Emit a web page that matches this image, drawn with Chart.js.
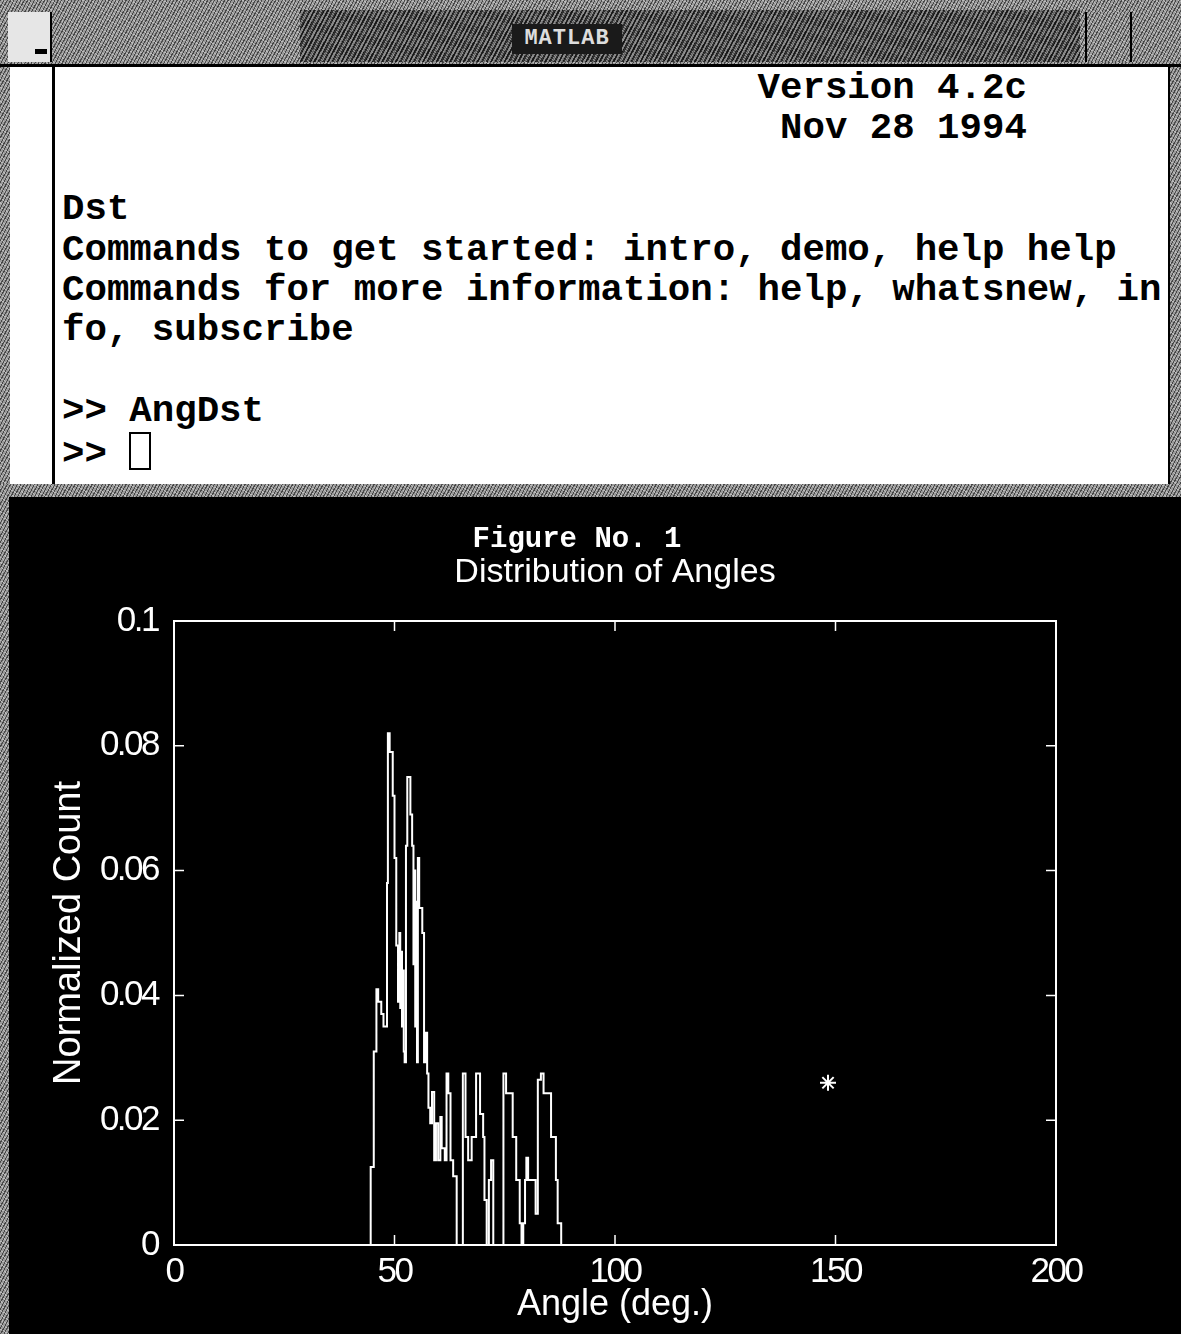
<!DOCTYPE html>
<html>
<head>
<meta charset="utf-8">
<script src="https://cdn.jsdelivr.net/npm/chart.js@4.4.0/dist/chart.umd.min.js"></script>
<style>
  html, body { margin:0; padding:0; }
  body { width:1181px; height:1334px; position:relative; overflow:hidden; background:#fff; }
  .dither { background-color:#9a9a9a;
    background-image: repeating-linear-gradient(118deg, rgba(0,0,0,0.55) 0 1px, transparent 1px 3px),
                      repeating-linear-gradient(30deg, rgba(255,255,255,0.35) 0 1px, transparent 1px 4px); }
  #titlebar { position:absolute; left:0; top:0; width:1181px; height:64px; border-bottom:3px solid #000; }
  #titlebar .dark { position:absolute; left:300px; top:10px; width:780px; height:52px;
    background-image: repeating-linear-gradient(118deg, rgba(0,0,0,0.7) 0 2px, rgba(120,120,120,0.6) 2px 4px); }
  #titletext { position:absolute; left:512px; top:24px; width:110px; height:30px; background:#1a1a1a; color:#ddd;
    font:bold 22px "Liberation Mono", monospace; text-align:center; line-height:30px; letter-spacing:1px; }
  #ctrlbox { position:absolute; left:8px; top:12px; width:42px; height:50px; background:#e6e6e6; border-right:2px solid #000; }
  #ctrlbox::after { content:""; position:absolute; left:27px; top:37px; width:12px; height:5px; background:#000; }
  .btn { position:absolute; top:12px; height:50px; border-left:2px solid #000; }
  #leftstrip { position:absolute; left:0; top:67px; width:52px; height:418px; background:#fff; border-right:3px solid #000; }
  #leftstrip .edge { position:absolute; left:0; top:0; width:10px; height:100%; }
  #rightstrip { position:absolute; left:1168px; top:67px; width:13px; height:418px; border-left:2px solid #000; }
  #midband { position:absolute; left:0; top:484px; width:1181px; height:14px; }
  #cmd { position:absolute; left:62px; top:68px; margin:0; font:bold 37.4px "Liberation Mono", monospace;
    line-height:40.4px; color:#000; white-space:pre; }
  #cursor { display:inline-block; width:18px; height:34px; border:2px solid #000; vertical-align:-6px; }
  #figure { position:absolute; left:0; top:497px; width:1181px; height:837px; background:#000; }
  #figure .edge { position:absolute; left:0; top:0; width:9px; height:100%; }
  #figtitle { position:absolute; left:0; top:523px; width:1154px; text-align:center; color:#fff;
    font:bold 29px "Liberation Mono", monospace; z-index:3; }
  #chart { position:absolute; left:0; top:497px; z-index:2; }
</style>
</head>
<body>
<div id="titlebar" class="dither">
  <div class="dark"></div>
  <div id="ctrlbox"></div>
  <div id="titletext">MATLAB</div>
  <div class="btn dither" style="left:1085px;width:43px;"></div>
  <div class="btn dither" style="left:1130px;width:40px;"></div>
</div>
<div id="leftstrip"><div class="edge dither"></div></div>
<div id="rightstrip" class="dither"></div>
<pre id="cmd">                               Version 4.2c
                                Nov 28 1994

Dst
Commands to get started: intro, demo, help help
Commands for more information: help, whatsnew, in
fo, subscribe

&gt;&gt; AngDst
&gt;&gt; <span id="cursor"></span></pre>
<div id="midband" class="dither"></div>
<div id="figure"><div class="edge dither"></div></div>
<div id="figtitle">Figure No. 1</div>
<canvas id="chart" width="1181" height="837"></canvas>
<script>
// Histogram outline (stairs): bin left edges in degrees and normalized counts
const angleEdges = [44.6, 45.3, 45.9, 46.3, 47.0, 47.5, 48.3, 48.5, 48.9, 49.6, 50.0, 50.4, 50.8, 51.1, 51.3, 51.5, 51.7, 51.9,
  52.1, 52.3, 52.6, 52.9, 53.6, 54.0, 54.3, 54.5, 54.7, 54.9, 55.1, 55.3, 55.6, 56.3, 56.7, 57.1, 57.4, 57.7, 58.1, 58.5,
  59.0, 59.4, 59.9, 60.4, 60.7, 61.4, 61.8, 62.2, 62.7, 63.3, 64.1, 65.5, 66.1, 66.7, 67.5, 68.5, 69.4, 70.1, 70.4, 70.9,
  71.4, 71.9, 72.4, 74.7, 75.3, 76.8, 77.6, 78.4, 78.8, 79.2, 79.6, 79.9, 80.3, 82.0, 82.5, 83.2, 83.8, 85.5, 86.6, 87.0,
  87.8, 88.3, 89.0];
const counts = [0, 0.0125, 0.031, 0.041, 0.039, 0.037, 0.035, 0.058, 0.082, 0.079, 0.072, 0.062, 0.048, 0.039, 0.050, 0.038, 0.047, 0.035,
  0.044, 0.031, 0.0293, 0.064, 0.075, 0.069, 0.064, 0.045, 0.060, 0.035, 0.055, 0.0293, 0.062, 0.054, 0.050, 0.0293, 0.034, 0.0275, 0.022, 0.0195,
  0.0245, 0.0136, 0.0195, 0.0136, 0.0205, 0.0155, 0.0136, 0.0275, 0.0243, 0.0136, 0.011, 0, 0.0275, 0.0173, 0.0136, 0.0173, 0.0275, 0.021, 0.0173, 0.0072,
  0, 0.0104, 0.0136, 0, 0.0275, 0.0243, 0.0173, 0.0104, 0.0035, 0, 0.0035, 0.0104, 0.014, 0.0104, 0.005, 0.0265, 0.0275, 0.0243, 0.0173, 0.0104,
  0.0035, 0, 0];
// Single '*' marker
const markerAngles = [148.3];
const markerCounts = [0.026];
// Axis ticks
const xTickValues = [0, 50, 100, 150, 200];
const xTickLabels = ['0', '50', '100', '150', '200'];
const yTickValues = [0, 0.02, 0.04, 0.06, 0.08, 0.1];
const yTickLabels = ['0', '0.02', '0.04', '0.06', '0.08', '0.1'];

const FONT_FAMILY = '"Liberation Sans Narrow", "Liberation Sans", sans-serif';
const tickFont = { family: FONT_FAMILY, size: 35, lineHeight: 1 };
const titleFont = { family: FONT_FAMILY, size: 36, lineHeight: 1 };

const narrowLabels = {
  id: 'narrowLabels',
  afterLayout(chart) {
    ['x', 'y'].forEach(id => {
      const s = chart.scales[id];
      if (s && !s._narrowPatched) {
        const orig = s.drawLabels.bind(s);
        s.drawLabels = function (area) {
          const c = this.ctx;
          c.letterSpacing = '-2.5px';
          orig(area);
          c.letterSpacing = '0px';
        };
        s._narrowPatched = true;
      }
    });
  }
};

const boxPlugin = {
  id: 'box',
  afterDraw(chart) {
    const { ctx, chartArea: a, scales } = chart;
    ctx.save();
    ctx.strokeStyle = '#fff';
    ctx.lineWidth = 2;
    ctx.strokeRect(a.left, a.top, a.right - a.left, a.bottom - a.top);
    ctx.lineWidth = 1.5;
    ctx.beginPath();
    scales.x.ticks.forEach(t => {
      const px = scales.x.getPixelForValue(t.value);
      ctx.moveTo(px, a.bottom); ctx.lineTo(px, a.bottom - 10);
      ctx.moveTo(px, a.top); ctx.lineTo(px, a.top + 10);
    });
    scales.y.ticks.forEach(t => {
      const py = scales.y.getPixelForValue(t.value);
      ctx.moveTo(a.left, py); ctx.lineTo(a.left + 10, py);
      ctx.moveTo(a.right, py); ctx.lineTo(a.right - 10, py);
    });
    ctx.stroke();
    ctx.restore();
  }
};

new Chart(document.getElementById('chart'), {
  type: 'line',
  data: {
    datasets: [
      {
        data: angleEdges.map((a, i) => ({ x: a, y: counts[i] })),
        stepped: 'after',
        borderColor: '#fff',
        borderWidth: 2,
        pointRadius: 0,
        fill: false
      },
      {
        data: markerAngles.map((a, i) => ({ x: a, y: markerCounts[i] })),
        showLine: false,
        pointStyle: 'star',
        pointRadius: 8,
        pointBorderColor: '#fff',
        pointBorderWidth: 2,
        borderColor: '#fff'
      }
    ]
  },
  options: {
    responsive: false,
    animation: false,
    devicePixelRatio: 1,
    layout: { padding: { left: 0, right: 125, top: 0, bottom: 0 } },
    plugins: {
      legend: { display: false },
      tooltip: { enabled: false },
      title: {
        display: true,
        fullSize: false,
        text: 'Distribution of Angles',
        color: '#fff',
        font: { family: FONT_FAMILY, size: 34, lineHeight: 1, weight: 'normal' },
        padding: { top: 59, bottom: 31 }
      }
    },
    scales: {
      x: {
        type: 'linear',
        min: 0, max: 200,
        afterBuildTicks: s => { s.ticks = xTickValues.map(v => ({ value: v })); },
        afterFit: s => { s.height = 89; },
        grid: { display: false, drawTicks: false },
        border: { display: false },
        ticks: { color: '#fff', font: tickFont, padding: 10, maxRotation: 0, autoSkip: false,
          callback: (v, i) => xTickLabels[i] },
        title: { display: true, text: 'Angle (deg.)', color: '#fff', font: titleFont, padding: { top: 0, bottom: 11 } }
      },
      y: {
        type: 'linear',
        min: 0, max: 0.1,
        afterBuildTicks: s => { s.ticks = yTickValues.map(v => ({ value: v })); },
        afterFit: s => { s.width = 174; },
        grid: { display: false, drawTicks: false },
        border: { display: false },
        ticks: { color: '#fff', font: tickFont, padding: 16, autoSkip: false,
          callback: (v, i) => yTickLabels[i] },
        title: { display: true, text: 'Normalized Count', color: '#fff', font: { family: FONT_FAMILY, size: 38, lineHeight: 1 }, padding: { top: 51, bottom: 0 } }
      }
    }
  },
  plugins: [narrowLabels, boxPlugin]
});
</script>
</body>
</html>
